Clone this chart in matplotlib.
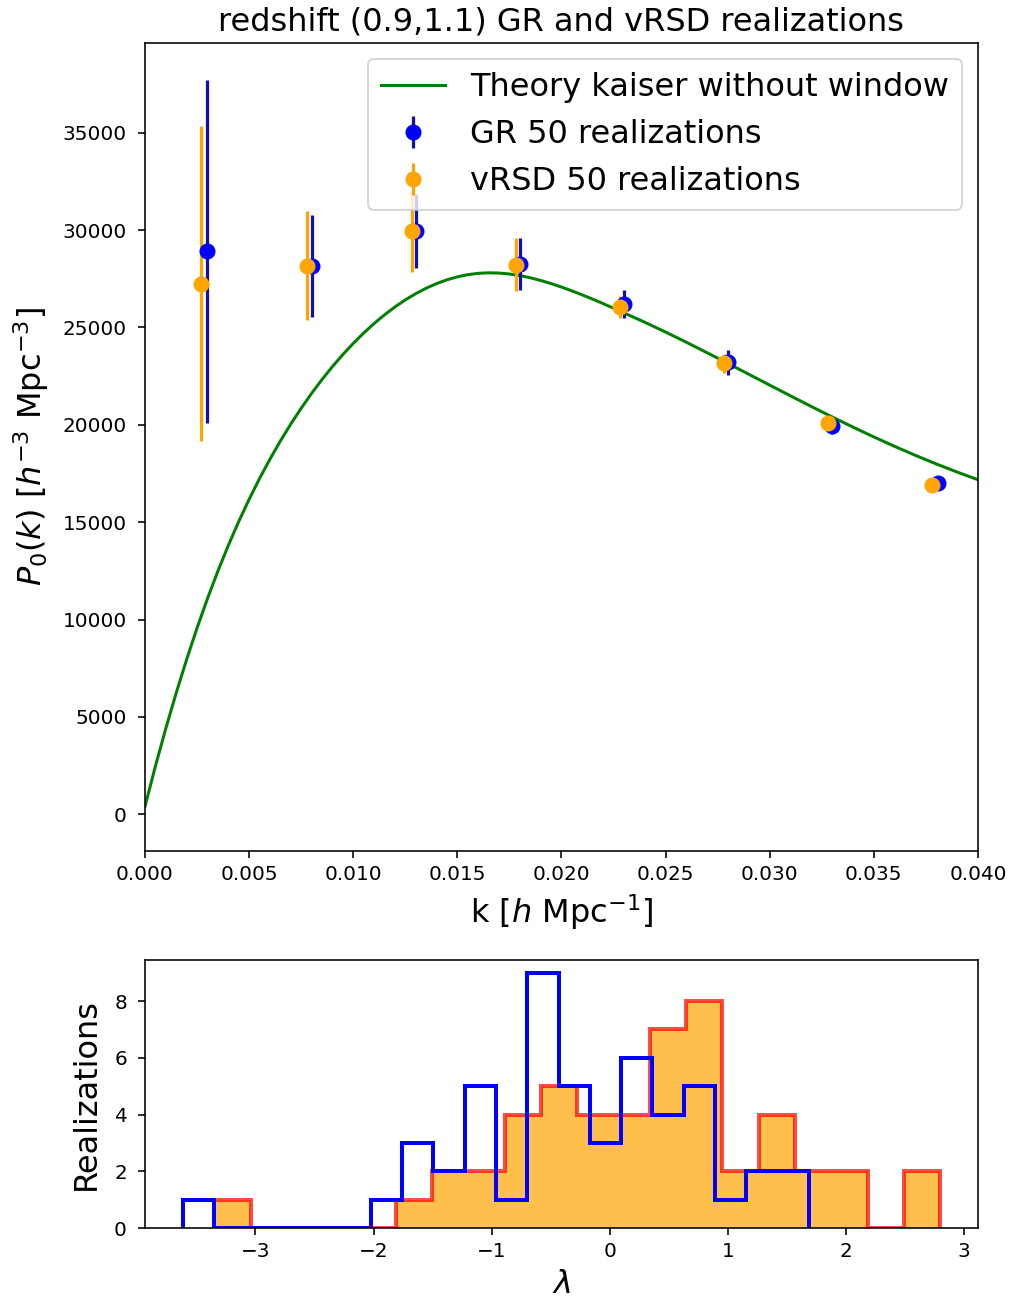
import numpy as np
import matplotlib
matplotlib.use("Agg")
import matplotlib.pyplot as plt

# --- Monopole power spectrum: binned measurements (mean and scatter over realizations)
k_gr = [0.0030, 0.0080, 0.0130, 0.0180, 0.0230, 0.0280, 0.0330, 0.0381]
p0_gr = [28900, 28150, 29950, 28250, 26200, 23200, 19950, 17020]
err_gr = [8800, 2600, 1900, 1330, 720, 620, 420, 200]

k_vrsd = [0.0027, 0.0078, 0.0128, 0.0178, 0.0228, 0.0278, 0.0328, 0.0378]
p0_vrsd = [27250, 28180, 29930, 28230, 26050, 23150, 20070, 16930]
err_vrsd = [8100, 2800, 2100, 1350, 550, 500, 200, 100]

# --- Kaiser theory curve (no window convolution)
k_theory = [0.0000, 0.0005, 0.0010, 0.0015, 0.0020, 0.0025, 0.0030, 0.0035,
            0.0040, 0.0045, 0.0050, 0.0055, 0.0060, 0.0065, 0.0070, 0.0075,
            0.0080, 0.0085, 0.0090, 0.0095, 0.0100, 0.0105, 0.0110, 0.0115,
            0.0120, 0.0125, 0.0130, 0.0135, 0.0140, 0.0145, 0.0150, 0.0155,
            0.0160, 0.0165, 0.0170, 0.0175, 0.0180, 0.0185, 0.0190, 0.0195,
            0.0200, 0.0205, 0.0210, 0.0215, 0.0220, 0.0225, 0.0230, 0.0240,
            0.0250, 0.0260, 0.0270, 0.0280, 0.0290, 0.0300, 0.0310, 0.0320,
            0.0330, 0.0340, 0.0350, 0.0360, 0.0370, 0.0380, 0.0390, 0.0400]
p0_theory = [400, 2460, 4402, 6230, 7948, 9560, 11070, 12482,
             13800, 15028, 16170, 17236, 18232, 19163, 20034, 20849,
             21611, 22323, 22987, 23605, 24178, 24709, 25198, 25645,
             26050, 26413, 26734, 27013, 27250, 27445, 27598, 27709,
             27778, 27805, 27793, 27745, 27663, 27551, 27413, 27253,
             27074, 26879, 26671, 26452, 26224, 25989, 25748, 25268,
             24763, 24238, 23698, 23148, 22593, 22038, 21486, 20940,
             20404, 19882, 19377, 18892, 18429, 17989, 17573, 17181]

# --- Distribution of lambda over the 50 realizations (20 bins each)
lam_range_gr = (-3.615, 1.685)
counts_gr = [1, 0, 0, 0, 0, 0, 1, 3, 2, 5, 1, 9, 5, 3, 6, 4, 5, 1, 2, 2]
lam_range_vrsd = (-3.347, 2.795)
counts_vrsd = [1, 0, 0, 0, 0, 1, 2, 2, 4, 5, 4, 4, 7, 8, 2, 4, 2, 2, 0, 2]

W, H, DPI = 1013, 1301, 144
fig = plt.figure(figsize=(W / DPI, H / DPI), dpi=DPI)

# Top panel: P0(k)
ax = fig.add_axes([0.1431, 0.3459, 0.8223, 0.6211])
ax.plot(k_theory, p0_theory, color="green", lw=1.5,
        label="Theory kaiser without window")
ax.errorbar(k_gr, p0_gr, yerr=err_gr, fmt="o", color="blue", ecolor="#1010b4",
            ms=7, elinewidth=1.6, label="GR 50 realizations")
ax.errorbar(k_vrsd, p0_vrsd, yerr=err_vrsd, fmt="o", color="orange",
            ms=7, elinewidth=1.6, label="vRSD 50 realizations")
ax.set_xlim(0, 0.04)
ax.set_ylim(-1885, 39610)
ax.tick_params(axis="y", pad=5.5)
ax.set_xlabel(r"k [$h$ Mpc$^{-1}$]", fontsize=16)
ax.set_ylabel(r"$P_0(k)$ [$h^{-3}$ Mpc$^{-3}$]", fontsize=16, labelpad=6)
ax.set_title("redshift (0.9,1.1) GR and vRSD realizations", fontsize=16)
ax.legend(loc="upper right", fontsize=16)

# Bottom panel: histogram of lambda
axh = fig.add_axes([0.1431, 0.0561, 0.8223, 0.2060])
edges_vrsd = np.linspace(lam_range_vrsd[0], lam_range_vrsd[1], len(counts_vrsd) + 1)
edges_gr = np.linspace(lam_range_gr[0], lam_range_gr[1], len(counts_gr) + 1)
axh.stairs(counts_vrsd, edges_vrsd, fill=True, facecolor="orange",
           edgecolor="red", alpha=0.7, lw=2)
axh.stairs(counts_gr, edges_gr, fill=False, color="blue", lw=2)
lo = min(lam_range_gr[0], lam_range_vrsd[0])
hi = max(lam_range_gr[1], lam_range_vrsd[1])
pad = 0.05 * (hi - lo)
axh.set_xlim(lo - pad, hi + pad)
axh.set_ylim(0, 9.45)
axh.set_xticks([-3, -2, -1, 0, 1, 2, 3])
axh.set_yticks([0, 2, 4, 6, 8])
axh.tick_params(axis="y", pad=5.5)
axh.set_xlabel(r"$\lambda$", fontsize=16)
axh.set_ylabel("Realizations", fontsize=16, labelpad=6)

fig.savefig("out.png", dpi=DPI)
